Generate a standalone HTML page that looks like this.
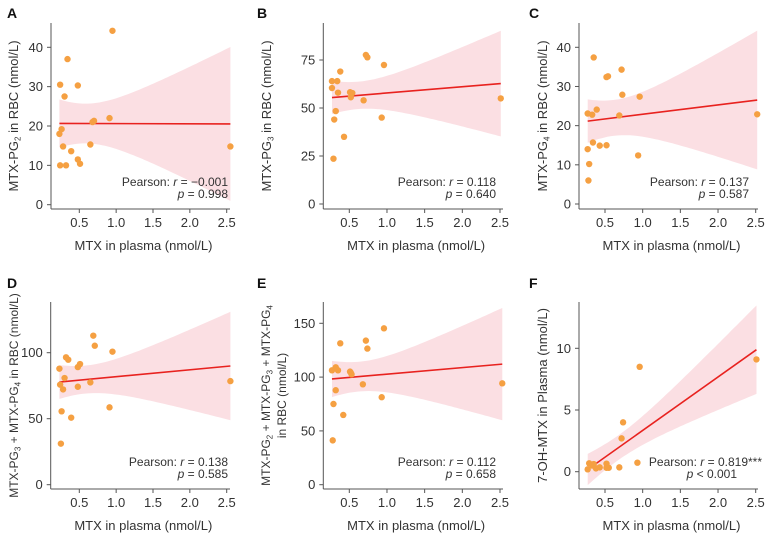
<!DOCTYPE html>
<html><head><meta charset="utf-8">
<style>
html,body{margin:0;padding:0;background:#fff;}
svg{display:block;font-family:"Liberation Sans",sans-serif;}
</style></head>
<body>
<svg id="chart" width="768" height="533" viewBox="0 0 768 533" xmlns="http://www.w3.org/2000/svg"></svg>
<script>
// ---- data ----
const xA = [0.95,0.34,0.24,0.48,0.30,0.91,0.70,0.68,0.26,0.23,0.28,0.65,0.39,0.48,0.51,0.24,0.32,2.55];
const yA = [44.2,37,30.5,30.3,27.5,22,21.3,21,19.2,18,14.8,15.3,13.6,11.5,10.4,10,10,14.8];
const xB = [0.72,0.74,0.96,0.38,0.27,0.34,0.27,0.35,0.51,0.54,0.52,0.69,2.51,0.32,0.93,0.30,0.43,0.29];
const yB = [77.6,76.4,72.4,69,64,64,60.4,58,58.2,57.8,55.6,54,55,48.4,45,44,35,23.6];
const xC = [0.35,0.72,0.54,0.52,0.73,0.96,0.39,0.27,0.33,0.69,2.52,0.34,0.43,0.52,0.27,0.94,0.29,0.28];
const yC = [37.4,34.3,32.6,32.4,27.9,27.4,24.1,23.1,22.8,22.6,22.9,15.7,14.9,15,14,12.4,10.2,6];
const xD = [0.69,0.71,0.95,0.32,0.35,0.51,0.48,0.23,0.30,0.24,0.28,0.48,0.65,2.55,0.91,0.26,0.39,0.25];
const yD = [112.9,105.3,100.8,96.5,94.7,91.4,89.1,87.9,80.8,75.8,72.2,74.2,77.5,78.5,58.6,55.6,50.8,31.1];
const xE = [0.96,0.72,0.74,0.38,0.32,0.35,0.27,0.51,0.53,0.52,0.68,2.53,0.32,0.93,0.29,0.42,0.28];
const yE = [145.3,133.9,126.5,131.4,109.1,106.3,106.3,105.1,102.6,104,93.3,94.2,87.8,81.3,75,64.8,41.2];
const xF = [0.96,2.51,0.74,0.72,0.93,0.29,0.35,0.52,0.27,0.38,0.43,0.52,0.55,0.69,0.33];
const yF = [8.5,9.1,4.0,2.7,0.73,0.68,0.62,0.65,0.19,0.27,0.35,0.32,0.32,0.35,0.5];
const xTicks = [0.5,1.0,1.5,2.0,2.5];
const xTickLabels = ["0.5","1.0","1.5","2.0","2.5"];
const ticksA = [0,10,20,30,40];
const ticksB = [0,25,50,75];
const ticksC = [0,10,20,30,40];
const ticksD = [0,50,100];
const ticksE = [0,50,100,150];
const ticksF = [0,5,10];
const statR = ["-0.001","0.118","0.137","0.138","0.112","0.819***"];
const statP = ["= 0.998","= 0.640","= 0.587","= 0.585","= 0.658","< 0.001"];

const NS="http://www.w3.org/2000/svg";
const svg=document.getElementById('chart');
function mk(tag,attrs,parent){const e=document.createElementNS(NS,tag);for(const k in attrs)e.setAttribute(k,attrs[k]);(parent||svg).appendChild(e);return e;}

const panels=[
 {id:'a',letter:'A',lx:7,ly:18,xs:xA,ys:yA,ticks:ticksA,left:51,right:230,a:79.3,b:226.7,top:23,bottom:209,y0:204.7,yt:40,ytp:47.3,ytitle:[['MTX-PG','2',' in RBC (nmol/L)']],ytx:[14],yfs:13,statX:228,statY:186},
 {id:'b',letter:'B',lx:257,ly:18,xs:xB,ys:yB,ticks:ticksB,left:323.3,right:503,a:349.3,b:500,top:23,bottom:209,y0:204,yt:75,ytp:60,ytitle:[['MTX-PG','3',' in RBC (nmol/L)']],ytx:[267],yfs:13,statX:496,statY:186},
 {id:'c',letter:'C',lx:529,ly:18,xs:xC,ys:yC,ticks:ticksC,left:579,right:758,a:605,b:755.7,top:23,bottom:209,y0:204,yt:40,ytp:47.3,ytitle:[['MTX-PG','4',' in RBC (nmol/L)']],ytx:[543],yfs:13,statX:749,statY:186},
 {id:'d',letter:'D',lx:7,ly:288,xs:xD,ys:yD,ticks:ticksD,left:50.7,right:230,a:79.3,b:226.7,top:302,bottom:489,y0:484.7,yt:100,ytp:352.7,ytitle:[['MTX-PG','3',' + MTX-PG','4',' in RBC (nmol/L)']],ytx:[14],yfs:12,statX:228,statY:466},
 {id:'e',letter:'E',lx:257,ly:288,xs:xE,ys:yE,ticks:ticksE,left:323.3,right:503,a:349.3,b:500,top:302,bottom:489,y0:484.7,yt:150,ytp:323.3,ytitle:[['MTX-PG','2',' + MTX-PG','3',' + MTX-PG','4'],['in RBC (nmol/L)']],ytx:[266,282],yfs:12,statX:496,statY:466},
 {id:'f',letter:'F',lx:529,ly:288,xs:xF,ys:yF,ticks:ticksF,left:579,right:758,a:605,b:755.7,top:302,bottom:489,y0:471.7,yt:10,ytp:348.3,ytitle:[['7-OH-MTX in Plasma (nmol/L)']],ytx:[543],yfs:13,statX:762,statY:466}
];

panels.forEach((p,pi)=>{
  const g=mk('g',{});
  
  
  const X=v=>p.a+(v-0.5)/2*(p.b-p.a);
  const Y=v=>p.y0-(v/p.yt)*(p.y0-p.ytp);
  const L=mk('text',{x:p.lx,y:p.ly,'font-size':14,'font-weight':'bold',fill:'#111'},g);L.textContent=p.letter;
  
  const xs=p.xs, ys=p.ys, n=xs.length;
  const mx=xs.reduce((s,v)=>s+v,0)/n, my=ys.reduce((s,v)=>s+v,0)/n;
  let sxx=0,sxy=0;for(let i=0;i<n;i++){sxx+=(xs[i]-mx)**2;sxy+=(xs[i]-mx)*(ys[i]-my);}
  const slope=sxy/sxx, icpt=my-slope*mx;
  let sse=0;for(let i=0;i<n;i++)sse+=(ys[i]-icpt-slope*xs[i])**2;
  const s=Math.sqrt(sse/(n-2)), t=2.12;
  const xmin=Math.min(...xs), xmax=Math.max(...xs);
  const up=[],lo=[];
  for(let k=0;k<=60;k++){const xv=xmin+(xmax-xmin)*k/60;const yh=icpt+slope*xv;const h=t*s*Math.sqrt(1/n+(xv-mx)**2/sxx);
    up.push(X(xv).toFixed(1)+','+Y(yh+h).toFixed(1));lo.unshift(X(xv).toFixed(1)+','+Y(yh-h).toFixed(1));}
  const band=mk('polygon',{points:up.concat(lo).join(' '),fill:'#fbdfe3'},g);
  
  const ln=mk('line',{x1:X(xmin),y1:Y(icpt+slope*xmin),x2:X(xmax),y2:Y(icpt+slope*xmax),stroke:'#e8221f','stroke-width':1.6},g);
  
  const ya=mk('line',{x1:p.left,y1:p.top,x2:p.left,y2:p.bottom,stroke:'#555','stroke-width':1},g);
  
  const xa=mk('line',{x1:p.left,y1:p.bottom,x2:p.right,y2:p.bottom,stroke:'#555','stroke-width':1},g);
  
  xTicks.forEach((tv,i)=>{
    mk('line',{x1:X(tv),y1:p.bottom,x2:X(tv),y2:p.bottom+4,stroke:'#555'},g);
    const tl=mk('text',{x:X(tv),y:p.bottom+18,'font-size':13,fill:'#333','text-anchor':'middle'},g);tl.textContent=xTickLabels[i];
    
  });
  p.ticks.forEach(tv=>{
    mk('line',{x1:p.left-4,y1:Y(tv),x2:p.left,y2:Y(tv),stroke:'#555'},g);
    const tl=mk('text',{x:p.left-8,y:Y(tv)+4.5,'font-size':13,fill:'#333','text-anchor':'end'},g);tl.textContent=String(tv);
    
  });
  const xt=mk('text',{x:(p.left+p.right)/2+3,y:p.bottom+41,'font-size':13,fill:'#333','text-anchor':'middle'},g);xt.textContent='MTX in plasma (nmol/L)';
  
  const cy=(p.top+p.bottom)/2;
  p.ytitle.forEach((parts,li)=>{
    const tx=p.ytx[li];
    const yt=mk('text',{x:0,y:0,'font-size':p.yfs,fill:'#333','text-anchor':'middle',transform:`translate(${tx+4},${cy}) rotate(-90)`},g);
    
    parts.forEach((pt,k)=>{
      const ts=mk('tspan',k%2===1?{'font-size':8,dy:2.5}:(k>1?{dy:-2.5}:{}),yt);ts.textContent=pt;
    });
  });
  for(let i=0;i<n;i++){
    const c=mk('circle',{cx:X(xs[i]),cy:Y(ys[i]),r:3.2,fill:'#f5a042'},g);
    
  }
  const st=mk('text',{x:p.statX,y:p.statY,'font-size':12,fill:'#333','text-anchor':'end'},g);
  
  const r=statR[pi].replace('-','\u2212');
  st.innerHTML='Pearson: <tspan font-style="italic">r</tspan> = '+r;
  const sp=mk('text',{x:p.statX - (pi===5?25:0),y:p.statY+12,'font-size':12,fill:'#333','text-anchor':'end'},g);
  
  sp.innerHTML='<tspan font-style="italic">p</tspan> '+statP[pi];
});
</script>
</body></html>
